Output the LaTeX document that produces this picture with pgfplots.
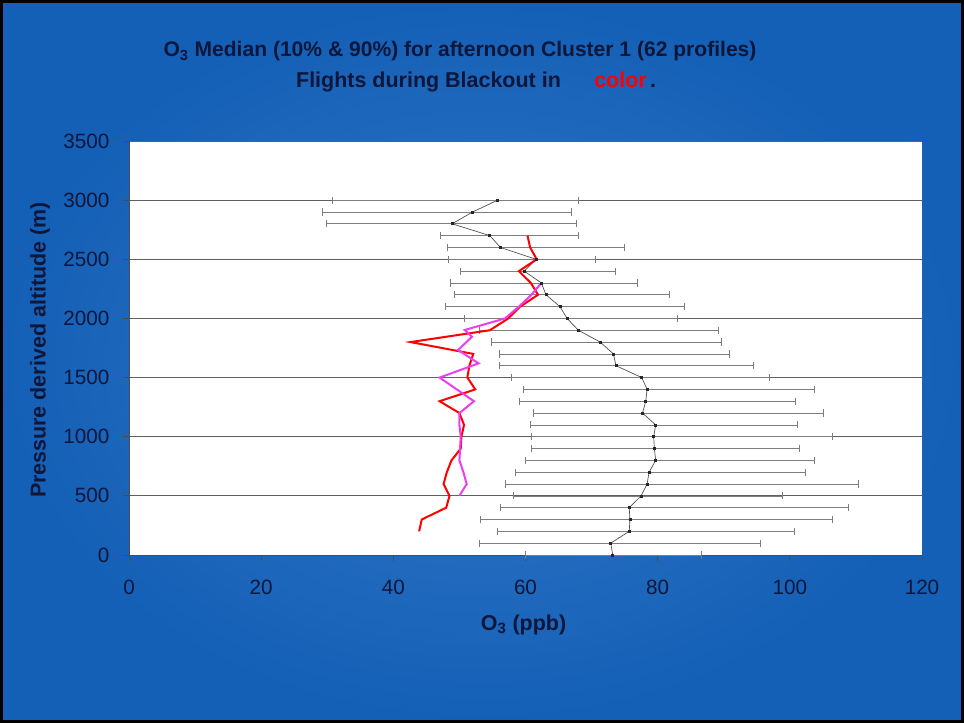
\documentclass[border=0pt]{standalone}
\usepackage{pgfplots}
\pgfplotsset{compat=1.18}
\usepackage{pgfplotstable}
\usepackage{fontspec}
\setmainfont{Liberation Sans}
\definecolor{navy}{RGB}{14,22,58}
\definecolor{bginner}{RGB}{50,118,200}
\definecolor{bgouter}{RGB}{20,96,182}
\definecolor{mag}{RGB}{240,60,240}
\definecolor{errg}{RGB}{125,125,125}

\pgfplotstableread{
alt med lo hi
0 73.2 60.0 86.6
100 72.9 53.0 95.5
200 75.7 55.7 100.7
300 75.8 53.2 106.4
400 75.7 56.2 108.8
500 77.5 58.1 98.8
600 78.4 56.9 110.3
700 78.7 58.4 102.4
800 79.7 59.9 103.7
900 79.5 60.9 101.4
1000 79.4 60.9 106.4
1100 79.7 60.7 101.2
1200 77.7 61.2 105.0
1300 78.2 59.1 100.9
1400 78.4 59.6 103.7
1500 77.6 57.8 96.9
1600 73.7 56.0 94.5
1700 73.3 56.0 90.9
1800 71.3 54.8 89.7
1900 68.0 53.0 89.2
2000 66.3 50.7 82.9
2100 65.2 47.9 84.1
2200 63.1 49.2 81.8
2300 62.4 48.7 76.9
2400 59.8 50.2 73.6
2500 61.6 48.3 70.5
2600 56.2 48.1 74.9
2700 54.6 47.1 68.0
2800 48.9 29.8 67.7
2900 52.0 29.3 67.0
3000 55.8 30.8 68.0
}\median

\pgfplotstableread{
alt x
200 43.9
300 44.3
400 48.0
500 48.5
600 47.6
700 48.1
800 48.8
900 50.2
1000 50.3
1100 50.7
1200 50.0
1300 47.0
1400 52.4
1500 51.2
1600 51.5
1700 52.1
1800 42.6
1900 54.6
2000 57.4
2100 59.2
2200 61.9
2300 60.8
2400 59.0
2500 61.7
2600 60.7
2700 60.3
}\redline

\pgfplotstableread{
alt x
500 50.0
600 51.1
700 50.6
800 50.0
900 50.1
1000 50.2
1100 50.0
1200 50.0
1300 52.2
1500 47.0
1620 52.9
1733 49.8
1845 51.9
1902 50.8
2000 56.9
2100 59.0
2200 60.9
2300 62.4
}\magline

\begin{document}
\begin{tikzpicture}
\shade[inner color=bginner, outer color=bgouter] (0pt,0pt) rectangle (723pt,542.25pt);
\draw[black, line width=2.25pt] (1.125pt,1.125pt) rectangle (721.875pt,541.125pt);

\begin{axis}[
  at={(96.75pt,126pt)}, anchor=south west,
  scale only axis,
  width=594.75pt, height=310.5pt,
  xmin=0, xmax=120, ymin=0, ymax=3500,
  xtick={0,20,...,120},
  ytick={0,500,...,3500},
  axis lines*=left,
  axis line style={-, draw=gray!60!black, line width=0.6pt},
  axis background/.style={fill=white},
  tick align=outside,
  major tick length=4.5pt,
  tick style={draw=gray!60!black, line width=0.6pt},
  ymajorgrids,
  grid style={draw=gray!75!black, line width=0.6pt},
  /pgf/number format/assume math mode=true,
  /pgf/number format/1000 sep={},
  tick label style={font=\fontsize{15.5}{18}\selectfont, text=navy, inner sep=0pt},
  yticklabel style={anchor=east, xshift=-10pt},
  xticklabel style={anchor=north, yshift=-14pt},
  xlabel={O\textsubscript{3} (ppb)},
  ylabel={Pressure derived altitude (m)},
  label style={font=\bfseries\fontsize{16.1}{19}\selectfont, text=navy},
  xlabel style={at={(axis description cs:0.4975,-0.169)}, anchor=center},
  ylabel style={at={(axis description cs:-0.1122,0.495)}, anchor=center},
  clip=false,
]
\addplot[draw=black!70, line width=0.5pt, mark=square*, mark size=0.75pt,
  mark options={fill=black!85, draw=black!85},
  error bars/.cd, x dir=both, x explicit,
  error mark=|,
  error bar style={draw=errg, line width=0.5pt},
  error mark options={draw=errg, mark size=2.7pt, line width=0.5pt}]
  table[x=med, y=alt, x error plus expr=\thisrow{hi}-\thisrow{med}, x error minus expr=\thisrow{med}-\thisrow{lo}] {\median};
\addplot[draw=red, line width=1.5pt, mark=none] table[x=x, y=alt] {\redline};
\addplot[draw=mag, line width=1.5pt, mark=none] table[x=x, y=alt] {\magline};
\end{axis}

\node[text=navy, anchor=base, font=\bfseries\fontsize{15.8}{19}\selectfont] at (345pt,499.5pt) {O\textsubscript{3} Median (10\% \& 90\%) for afternoon Cluster 1 (62 profiles)};
\node[text=navy, anchor=base, font=\bfseries\fontsize{16.1}{19}\selectfont] at (321.4pt,476.25pt) {Flights during Blackout in};
\node[text=red, anchor=base, font=\bfseries\fontsize{16.1}{19}\selectfont] at (465.4pt,476.25pt) {color};
\node[text=navy, anchor=base, font=\bfseries\fontsize{16.1}{19}\selectfont] at (489.75pt,476.25pt) {.};
\end{tikzpicture}
\end{document}
